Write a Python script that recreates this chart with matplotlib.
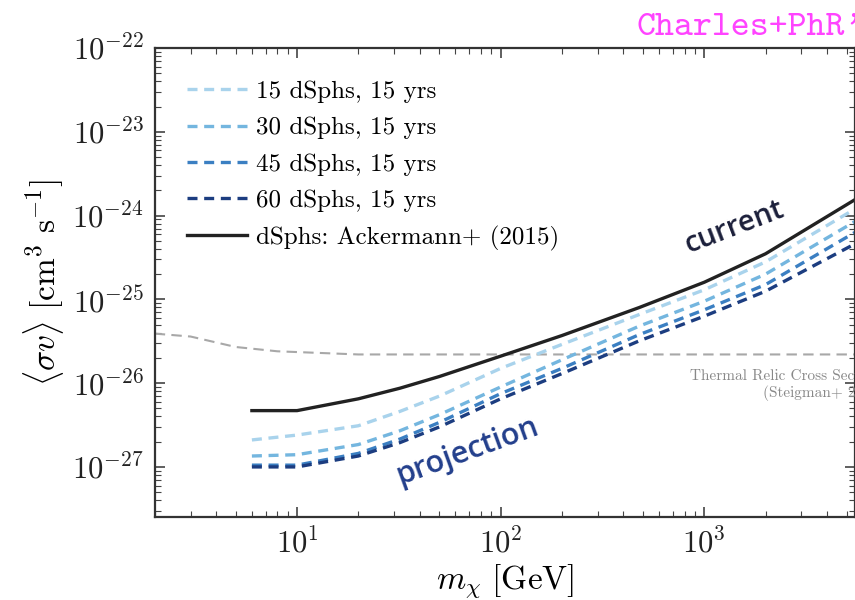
import matplotlib
matplotlib.use("Agg")
import matplotlib.pyplot as plt
import numpy as np

plt.rcParams['font.family'] = 'serif'
plt.rcParams['font.serif'] = ['cmr10', 'DejaVu Serif']
plt.rcParams['mathtext.fontset'] = 'cm'
plt.rcParams['axes.formatter.use_mathtext'] = True

# dark matter mass [GeV]
mass = [6, 10, 20, 32, 50, 100, 200, 480, 1000, 2000, 5500, 10000]

# dSph limits from Ackermann+ (2015)
current = [4.7e-27, 4.7e-27, 6.5e-27, 8.7e-27, 1.2e-26, 2.1e-26, 3.7e-26,
           8.0e-26, 1.6e-25, 3.5e-25, 1.55e-24, 3.5e-24]

# projected sensitivities, 15 years of data
proj_15 = [2.1e-27, 2.4e-27, 3.1e-27, 4.6e-27, 7.0e-27, 1.5e-26, 2.9e-26,
           6.6e-26, 1.3e-25, 2.8e-25, 1.2e-24, 2.6e-24]
proj_30 = [1.35e-27, 1.4e-27, 1.85e-27, 2.7e-27, 4.2e-27, 9.0e-27, 1.9e-26,
           4.8e-26, 9.5e-26, 2.0e-25, 8.5e-25, 1.9e-24]
proj_45 = [1.05e-27, 1.05e-27, 1.45e-27, 2.15e-27, 3.4e-27, 7.5e-27, 1.5e-26,
           3.8e-26, 7.5e-26, 1.5e-25, 6.3e-25, 1.4e-24]
proj_60 = [1.0e-27, 1.0e-27, 1.35e-27, 1.95e-27, 3.0e-27, 6.5e-27, 1.3e-26,
           3.2e-26, 6.3e-26, 1.25e-25, 4.6e-25, 1.0e-24]
projections = [proj_15, proj_30, proj_45, proj_60]
labels = ['15 dSphs, 15 yrs', '30 dSphs, 15 yrs', '45 dSphs, 15 yrs', '60 dSphs, 15 yrs']
colors = ['#a9d3ec', '#74b6df', '#3b7fc2', '#1c3d80']

# thermal relic cross section (Steigman+ 2012)
relic_mass = [2, 3, 5, 8, 20, 10000]
relic_sv = [3.9e-26, 3.6e-26, 2.7e-26, 2.4e-26, 2.2e-26, 2.2e-26]

fig = plt.figure(figsize=(8.55, 6.0), dpi=100)
ax = fig.add_axes([0.181, 0.138, 0.819, 0.782])

ax.plot(relic_mass, relic_sv, ls=(0, (5, 3)), color='#a8a8a8', lw=1.5)
for y, lab, c in zip(projections, labels, colors):
    ax.plot(mass, y, ls=(0, (3, 2)), color=c, lw=2.4, label=lab)
ax.plot(mass, current, color='#222222', lw=2.4, label='dSphs: Ackermann+ (2015)')

ax.set_xscale('log')
ax.set_yscale('log')
ax.set_xlim(2, 5500)
ax.set_ylim(10**-27.6, 1e-22)

ax.tick_params(which='both', direction='in', top=True, right=True,
               colors='#444444', labelcolor='#222222')
ax.tick_params(which='major', length=7, width=1.2, labelsize=22, pad=8)
ax.tick_params(which='minor', length=4, width=0.8)
for s in ax.spines.values():
    s.set_color('#333333')
    s.set_linewidth(1.6)

ax.set_xlabel(r'$m_\chi\ [\mathrm{GeV}]$', fontsize=24, labelpad=2)
ax.set_ylabel(r'$\langle\sigma v\rangle\ [\mathrm{cm}^3\ \mathrm{s}^{-1}]$',
              fontsize=24, labelpad=4)

leg = ax.legend(loc='upper left', fontsize=18, frameon=False,
                handlelength=2.4, handletextpad=0.35, labelspacing=0.55,
                borderaxespad=0.9)

ax.text(850, 1.21e-26, 'Thermal Relic Cross Section', fontsize=11,
        color='#888888', va='center', ha='left')
ax.text(1950, 7.6e-27, '(Steigman+ 2012)', fontsize=11,
        color='#888888', va='center', ha='left')

ax.text(1410, 7.2e-25, 'current', fontsize=21, color='#1b1f3a',
        family='Open Sans', weight='semibold', rotation=21,
        ha='center', va='center')
ax.text(69, 1.55e-27, 'projection', fontsize=22, color='#233f8c',
        family='Open Sans', weight='semibold', rotation=20,
        ha='center', va='center')

fig.text(0.744, 0.953, "Charles+PhR'16", fontsize=26, color='#ff44ff',
         family='cmtt10', ha='left', va='center')

fig.savefig('out.png', dpi=100)
